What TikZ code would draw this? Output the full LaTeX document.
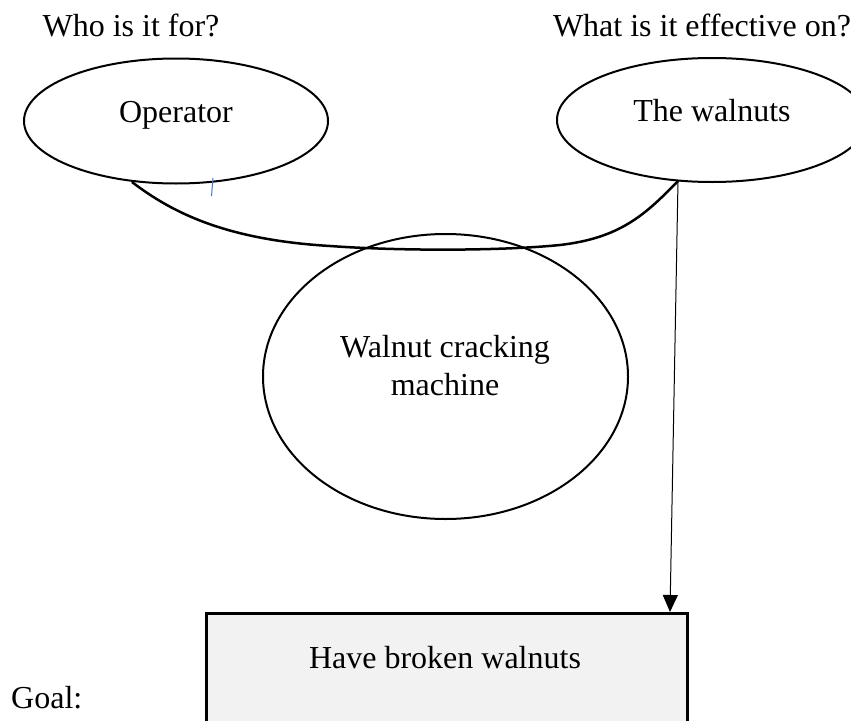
\documentclass[tikz,border=0pt]{standalone}
\usepackage{fontspec}
\setmainfont{Liberation Serif}
\usetikzlibrary{shapes.geometric,arrows.meta}
\definecolor{boxgray}{RGB}{242,242,242}
\definecolor{markblue}{RGB}{68,114,210}
\tikzset{
  txt/.style={inner sep=0pt, font=\fontsize{32}{38}\selectfont, align=center, anchor=base},
  oval/.style={draw=black, line width=2pt, ellipse, inner sep=0pt},
  goalbox/.style={draw=black, line width=2.5pt, fill=boxgray, inner sep=0pt, anchor=north west},
  link/.style={draw=black, line width=2.5pt},
  arrowline/.style={draw=black, line width=1pt, -{Triangle[width=15pt,length=17pt]}}
}
\begin{document}
\begin{tikzpicture}[x=1pt,y=-1pt]
\useasboundingbox (0,0) rectangle (851,720);
\clip (0,0) rectangle (851,720);
% question labels
\node[txt] (q1) at (131,36) {Who is it for?};
\node[txt] (q2) at (702,36) {What is it effective on?};
% ellipses
\node[oval, minimum width=304pt, minimum height=125pt] (op) at (176,121) {};
\node[txt] (optext) at (176,122) {Operator};
\node[oval, minimum width=310pt, minimum height=124pt] (wal) at (712,120) {};
\node[txt] (waltext) at (712,121) {The walnuts};
\node[oval, minimum width=365pt, minimum height=285pt] (mach) at (445.5,376.5) {};
\node[txt] (machtext) at (445,395) {Walnut cracking\\machine};
% goal box
\node[goalbox, minimum width=481pt, minimum height=140pt] (box) at (205,612) {};
\node[txt] (boxtext) at (445,668) {Have broken walnuts};
\node[txt, anchor=base west] (goal) at (11,708) {Goal:};
% connector curve
\coordinate (a) at (132,182);
\coordinate (b) at (678,181);
\coordinate (t) at (670,612);
\draw[link] (a) .. controls (175,215) and (230,240) .. (330,246)
  .. controls (400,251) and (500,251) .. (560,245)
  .. controls (620,238) and (645,215) .. (b);
% arrow
\draw[arrowline] (b) -- (t);
% small blue mark
\coordinate (m1) at (213,178);
\coordinate (m2) at (211.5,196);
\draw[markblue, line width=1pt] (m1) -- (m2);
\end{tikzpicture}
\end{document}
